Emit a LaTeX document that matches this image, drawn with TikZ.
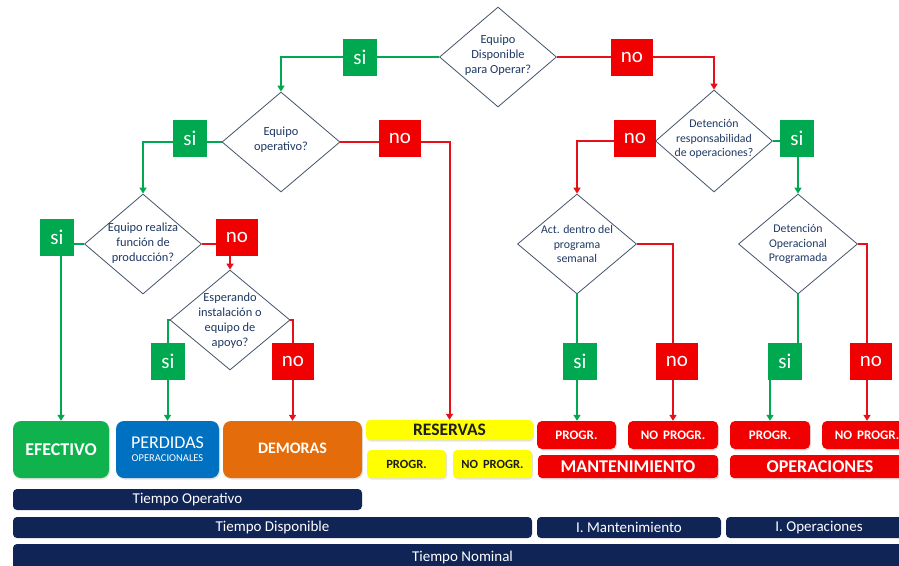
\documentclass[tikz,border=0pt]{standalone}
\usepackage{fontspec}
\setmainfont{Carlito}
\usetikzlibrary{shapes.geometric,arrows.meta,shadows}
\definecolor{gr}{RGB}{0,168,80}
\definecolor{effg}{RGB}{16,178,78}
\definecolor{rd}{RGB}{240,0,0}
\definecolor{rline}{RGB}{232,16,24}
\definecolor{blu}{RGB}{0,112,192}
\definecolor{org}{RGB}{228,108,10}
\definecolor{yel}{RGB}{255,255,0}
\definecolor{navy}{RGB}{16,36,86}
\definecolor{dline}{RGB}{68,84,106}
\definecolor{dtxt}{RGB}{31,56,100}
\definecolor{ytxt}{RGB}{30,30,30}
\begin{document}
\begin{tikzpicture}[x=1pt,y=-1pt,
  dia/.style={diamond,draw=dline,line width=0.8pt,fill=white,inner sep=0pt,minimum width=118pt,minimum height=100pt},
  dtext/.style={align=center,text=dtxt,inner sep=0pt,font=\fontsize{12.4}{15}\selectfont},
  dtexts/.style={dtext,font=\fontsize{11.8}{14.2}\selectfont},
  lab/.style={text=white,inner sep=0pt,minimum height=37pt,font=\fontsize{21}{21}\selectfont},
  sibox/.style={lab,fill=gr,minimum width=34pt},
  nobox/.style={lab,fill=rd,minimum width=42pt},
  gln/.style={draw=gr,line width=2pt,-{Triangle[width=7pt,length=6pt]}},
  rln/.style={draw=rline,line width=2pt,-{Triangle[width=7pt,length=6pt]}},
  shad/.style={drop shadow={opacity=0.22,shadow xshift=1pt,shadow yshift=-1.5pt}},
  bigbox/.style={rounded corners=8pt,text=white,inner sep=0pt,shad,minimum height=57pt},
  redbox/.style={rounded corners=5pt,fill=rd,text=white,inner sep=0pt,shad,minimum height=28pt,font=\fontsize{13}{15}\bfseries},
  redwide/.style={rounded corners=4pt,fill=rd,text=white,inner sep=0pt,shad,minimum height=23pt,minimum width=180pt,font=\fontsize{18}{20}\bfseries},
  yelbox/.style={rounded corners=4pt,fill=yel,text=ytxt,inner sep=0pt,shad,font=\fontsize{12.5}{14}\bfseries},
  bar/.style={rounded corners=4pt,fill=navy,text=white,inner sep=0pt,minimum height=21pt,font=\fontsize{15}{17}\selectfont}
]
\fill[white] (0,0) rectangle (899,565);
\useasboundingbox (0,0) rectangle (899,565);

% decision diamonds
\node[dia,minimum width=117pt] (d1) at (498,57) {};
\node[dtext] (t1) at (498,55) {Equipo\\Disponible\\para Operar?};
\node[dia] (d2) at (281,142) {};
\node[dtext] (t2) at (281,140) {Equipo\\operativo?};
\node[dia,minimum width=117pt,minimum height=102pt] (d3) at (714,141) {};
\node[dtexts] (t3) at (714,139) {Detención\\responsabilidad\\de operaciones?};
\node[dia,minimum width=117pt] (d4) at (143,244) {};
\node[dtext] (t4) at (143,243) {Equipo realiza\\función de\\producción?};
\node[dia,minimum width=120pt] (d5) at (230,320) {};
\node[dtext] (t5) at (230,321) {Esperando\\instalación o\\equipo de\\apoyo?};
\node[dia,minimum width=119pt] (d6) at (577,244) {};
\node[dtexts] (t6) at (577,244) {Act. dentro del\\programa\\semanal};
\node[dia,minimum width=119pt] (d7) at (798,244) {};
\node[dtexts] (t7) at (798,244) {Detención\\Operacional\\Programada};

% result boxes
\node[bigbox,fill=effg,minimum width=96pt,font=\fontsize{18}{20}\bfseries] (eff) at (61,449.5) {EFECTIVO};
\node[bigbox,fill=blu,minimum width=103pt,align=center] (perd) at (167.5,449.5)
  {\fontsize{18}{18}\selectfont PERDIDAS\\[1pt]\fontsize{10.5}{12}\selectfont OPERACIONALES};
\node[bigbox,fill=org,minimum width=139pt,font=\fontsize{16}{18}\bfseries] (dem) at (292.5,449.5) {\raisebox{2pt}{DEMORAS}};
\node[yelbox,minimum width=167pt,minimum height=20pt,font=\fontsize{17.5}{19}\bfseries] (res) at (449.5,430) {RESERVAS};
\node[yelbox,minimum width=79pt,minimum height=28pt] (yp) at (406.5,464) {PROGR.};
\node[yelbox,minimum width=79pt,minimum height=28pt] (ynp) at (492.5,464) {NO\ \,PROGR.};
\node[redbox,minimum width=79pt] (mp) at (576.5,435) {PROGR.};
\node[redbox,minimum width=90pt] (mnp) at (673,435) {NO\ \,PROGR.};
\node[redwide] (mant) at (628,466.5) {MANTENIMIENTO};
\node[redbox,minimum width=80pt] (op) at (770,435) {PROGR.};
\node[redbox,minimum width=90pt] (onp) at (867,435) {NO\ \,PROGR.};
\node[redwide] (ops) at (820,466.5) {OPERACIONES};

% time bars
\node[bar,minimum width=349pt] (b1) at (187.5,499.5) {Tiempo Operativo};
\node[bar,minimum width=519pt] (b2) at (272.5,527.5) {Tiempo Disponible};
\node[bar,minimum width=184pt] (b3) at (629,527.5) {I. Mantenimiento};
\node[bar,minimum width=186pt] (b4) at (819,527.5) {I. Operaciones};
\node[bar,minimum width=899pt,minimum height=26pt] (b5) at (462.5,557) {\raisebox{1pt}{Tiempo Nominal}};

% connectors
\draw[gln] (d1.west) -| (d2.north);
\draw[rln] (d1.east) -| (d3.north);
\draw[gln] (d2.west) -| (d4.north);
\draw[rln] (d2.east) -| (res.north);
\draw[gln] (d4.west) -| (eff.north);
\draw[rln] (d4.east) -| (d5.north);
\draw[gln] (d5.west) -| (perd.north);
\draw[rln] (d5.east) -| (dem.north);
\draw[rln] (d3.west) -| (d6.north);
\draw[gln] (d3.east) -| (d7.north);
\draw[gln] (d6.south) -- (d6.south |- mp.north);
\draw[rln] (d6.east) -| (mnp.north);
\draw[gln] (d7.south) -- ++(0,69) -| (op.north);
\draw[rln] (d7.east) -| (onp.north);

% si / no labels
\node[sibox] (s1) at (360,57) {si};
\node[nobox] (n1) at (632,57) {no};
\node[sibox] (s2) at (190,138) {si};
\node[nobox] (n2) at (400,138) {no};
\node[nobox] (n3) at (635,138) {no};
\node[sibox] (s3) at (797,138) {si};
\node[sibox] (s4) at (57,237) {si};
\node[nobox] (n4) at (237,237) {no};
\node[sibox] (s5) at (168,361) {si};
\node[nobox] (n5) at (293,361) {no};
\node[sibox] (s6) at (580,361) {si};
\node[nobox] (n6) at (677,361) {no};
\node[sibox] (s7) at (785,361) {si};
\node[nobox] (n7) at (871,361) {no};
\end{tikzpicture}
\end{document}
